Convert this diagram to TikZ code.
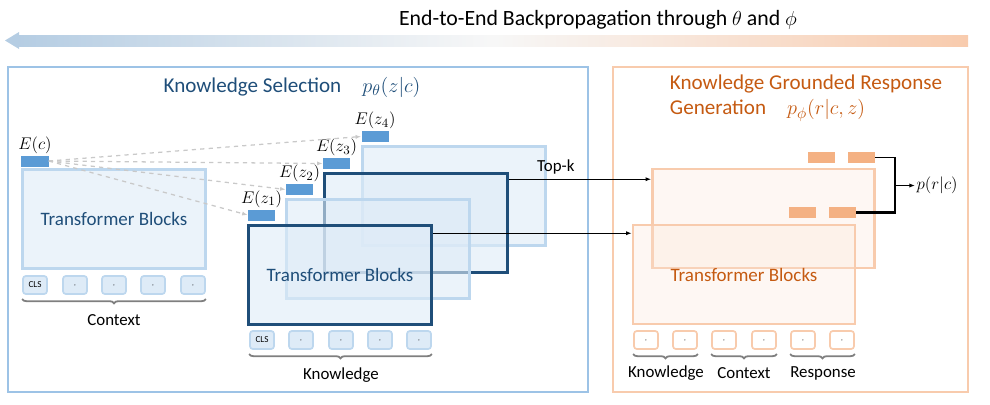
\documentclass[tikz,border=0pt]{standalone}
\usepackage{fontspec}
\setmainfont{Carlito}
\usetikzlibrary{positioning,arrows.meta,calc,decorations.pathreplacing}
\definecolor{ksblue}{HTML}{1F4E79}
\definecolor{frameblue}{HTML}{9DC3E6}
\definecolor{lineblue}{HTML}{BDD7EE}
\definecolor{fillblue}{HTML}{DEEBF7}
\definecolor{barblue}{HTML}{5B9BD5}
\definecolor{rgorange}{HTML}{C55A11}
\definecolor{frameorange}{HTML}{F8CBAD}
\definecolor{fillorange}{HTML}{FBE5D6}
\definecolor{barorange}{HTML}{F4B183}
\definecolor{bracegray}{HTML}{7F7F7F}
\definecolor{dashgray}{HTML}{C9C9C9}

\begin{document}
\begin{tikzpicture}[x=0.025cm, y=-0.025cm,
    frame/.style={line width=2pt},
    tfbox/.style={draw=lineblue, fill=fillblue, line width=1.8pt, fill opacity=0.6, text opacity=1,
      minimum width=4.575cm, minimum height=2.475cm, inner sep=0, text=ksblue, font=\fontsize{13.5}{15}\selectfont},
    tfdark/.style={tfbox, draw=ksblue},
    ofbox/.style={tfbox, draw=frameorange, fill=fillorange, fill opacity=0.3, text=rgorange, minimum width=5.55cm},
    ebar/.style={fill=barblue, minimum width=0.675cm, minimum height=0.275cm, inner sep=0},
    obar/.style={ebar, fill=barorange},
    tok/.style={draw=lineblue, fill=fillblue, line width=1.2pt, rounded corners=2pt,
      minimum width=0.6cm, minimum height=0.45cm, inner sep=0, font=\fontsize{6.5}{7}\selectfont},
    otok/.style={tok, draw=frameorange, fill=white},
    brc/.style={decorate, decoration={brace, amplitude=3pt, mirror}, draw=bracegray, line width=1.3pt},
    lbl/.style={font=\fontsize{12}{14}\selectfont},
    elbl/.style={above=0pt, inner sep=1pt, font=\fontsize{13}{15}\selectfont},
    dasharrow/.style={dashgray, dashed, line width=0.9pt, -{Latex[length=4pt]}}]
  \useasboundingbox (0,0) rectangle (990,404);

  % backpropagation arrow
  \shade[left color=frameblue!80!ksblue!60, right color=frameorange, middle color=white!94!gray] (18,35) rectangle (968,46);
  \fill[frameblue!80!ksblue!60] (5,40.5) -- (19,32) -- (19,49) -- cycle;
  \node[font=\fontsize{15.5}{17}\selectfont] (bptext) at (598,20) {End-to-End Backpropagation through $\theta$ and $\phi$};

  % knowledge selection
  \draw[frame, draw=frameblue] (8,67) rectangle (588,392);
  \node[text=ksblue, font=\fontsize{15}{17}\selectfont] (kstitle) at (292,87) {Knowledge Selection\quad $p_\theta(z|c)$};

  \node[tfbox] (cbox) at (114,219) {Transformer Blocks};
  \node[ebar] (ec) at (35,161) {};
  \node[elbl] at (ec.north) {$E(c)$};
  \node[tok] (ccls) at (35,285) {CLS};
  \foreach \x [count=\i] in {75,114,153,193}
    \node[tok] (ctok\i) at (\x,285) {$\cdot$};
  \draw[brc] ([yshift=-3pt]ccls.south west) -- ([yshift=-3pt]ctok4.south east);
  \node[lbl] (ctxlbl) at (114,320) {Context};

  \node[tfbox] (kbox4) at (454,196) {};
  \node[tfdark] (kbox3) at (416,223) {};
  \node[tfbox] (kbox2) at (378,249) {};
  \node[tfdark] (kbox1) at (340,275) {Transformer Blocks};

  \foreach \x/\y [count=\i] in {261.5/215, 299.5/189.5, 336.5/163.5, 375/136.5} {
    \node[ebar] (ez\i) at (\x,\y) {};
    \node[elbl] at (ez\i.north) {$E(z_\i)$};
    \draw[dasharrow] (ec.east) -- (ez\i.west);
  }
  \node[tok] (kcls) at (262,340) {CLS};
  \foreach \x [count=\i] in {301,341,380,419}
    \node[tok] (ktok\i) at (\x,340) {$\cdot$};
  \draw[brc] ([yshift=-3pt]kcls.south west) -- ([yshift=-3pt]ktok4.south east);
  \node[lbl] (knowlbl) at (341,375) {Knowledge};

  % response generation
  \draw[frame, draw=frameorange] (613,67) rectangle (968,392);
  \node[text=rgorange, font=\fontsize{15}{18}\selectfont, align=left, anchor=west] (rgtitle) at (665,98)
    {Knowledge Grounded Response\\Generation\quad $p_\phi(r|c,z)$};

  \node[ofbox] (oback) at (763.5,218.5) {};
  \node[ofbox] (ofront) at (744,274.5) {Transformer Blocks};
  \node[obar] (obar1) at (821.5,157.5) {};
  \node[obar] (obar2) at (861.5,157.5) {};
  \node[obar] (obar3) at (802.5,212.5) {};
  \node[obar] (obar4) at (842.5,212.5) {};

  \foreach \x [count=\i] in {646,685,724,764,803,842}
    \node[otok] (otok\i) at (\x,340) {$\cdot$};
  \draw[brc] ([yshift=-3pt]otok1.south west) -- ([yshift=-3pt]otok2.south east);
  \draw[brc] ([yshift=-3pt]otok3.south west) -- ([yshift=-3pt]otok4.south east);
  \draw[brc] ([yshift=-3pt]otok5.south west) -- ([yshift=-3pt]otok6.south east);
  \node[lbl] (oknow) at (666,373) {Knowledge};
  \node[lbl] (octx) at (744,373) {Context};
  \node[lbl] (oresp) at (823,373) {Response};

  % top-k connectors
  \draw[-{Latex[length=4pt]}, line width=0.8pt] ($(kbox3.north east)+(0,7)$) coordinate (k3out)
    -- (oback.west |- k3out) node[pos=0.33, above, lbl] {Top-k};
  \draw[-{Latex[length=4pt]}, line width=0.8pt] ($(kbox1.north east)+(0,9)$) coordinate (k1out)
    -- (ofront.west |- k1out);

  % output
  \coordinate (pj) at (895,185.5);
  \node[anchor=west, font=\fontsize{13}{15}\selectfont, inner sep=1pt] (prc) at (915,185.5) {$p(r|c)$};
  \draw[line width=0.9pt] (obar2.east) -| (pj);
  \draw[line width=2pt] (obar4.east) -| (pj);
  \draw[-{Latex[length=4pt]}, line width=0.8pt] (pj) -- (prc.west);
\end{tikzpicture}
\end{document}
